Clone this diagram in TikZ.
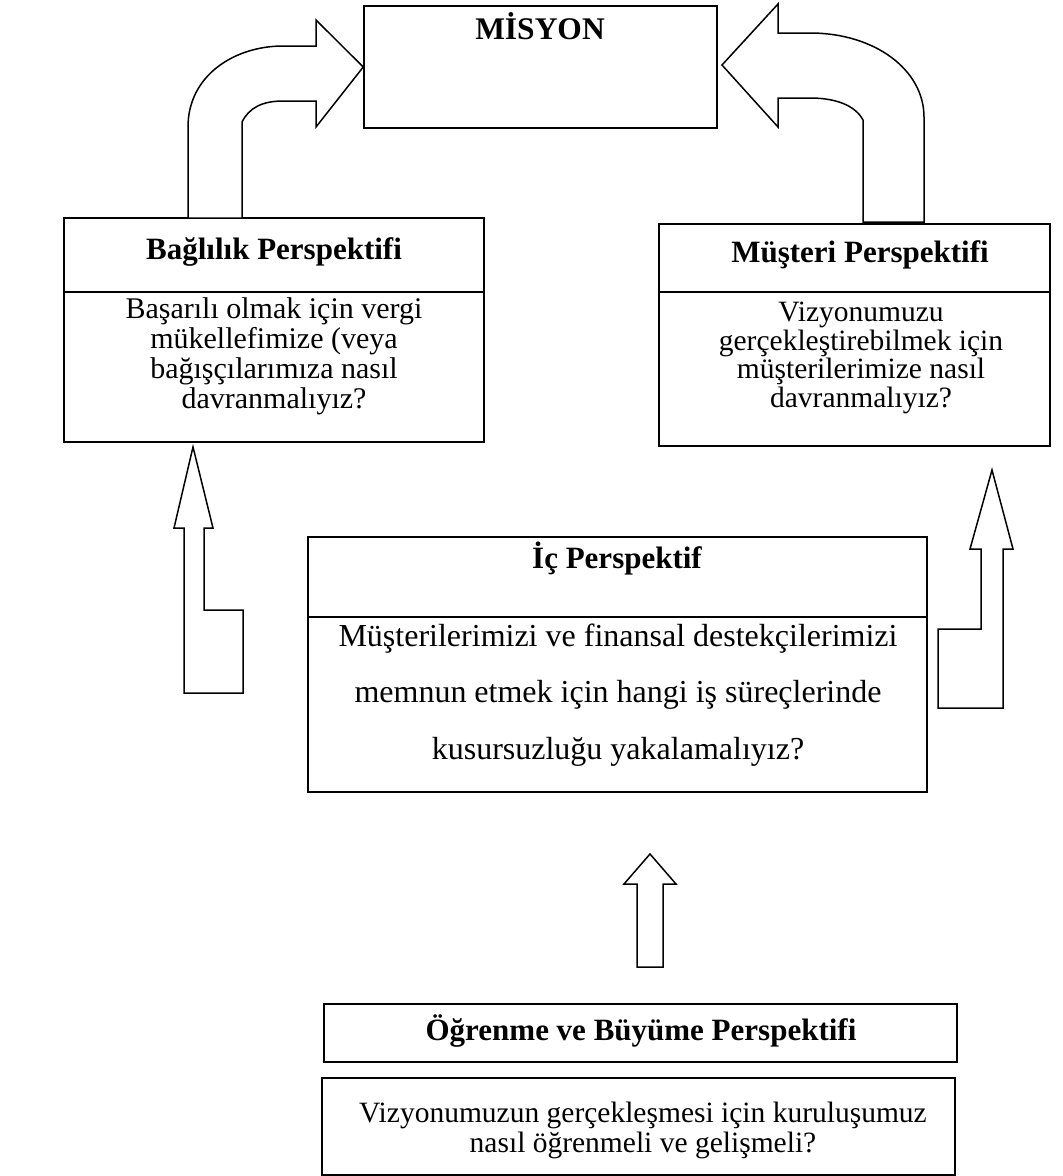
\documentclass[tikz,border=0pt]{standalone}
\usepackage{fontspec}
\setmainfont{Liberation Serif}

\begin{document}
\begin{tikzpicture}[
        x=1pt, y=-1pt, % one unit = one pixel of the page, y downwards
        line width=1.5pt,
        box/.style = {draw, inner sep=0pt}, % frames of the perspectives
        head/.style = {inner sep=0pt, font=\fontsize{31}{34}\selectfont\bfseries},
        body/.style = {inner sep=0pt, align=center, font=\fontsize{30}{30}\selectfont},
        wide/.style = {inner sep=0pt, align=center, font=\fontsize{32}{56.5}\selectfont},
        block/.style = {draw, fill=white, line join=miter}, % block arrows
    ]
    \useasboundingbox (0,0) rectangle (1063,1176);

    % frames
    \node[box, minimum width=353, minimum height=122] (misyon) at (540.5,67) {};
    \node[box, minimum width=420, minimum height=224] (baglilik) at (274,330) {};
    \node[box, minimum width=391, minimum height=222] (musteri) at (854.5,335) {};
    \node[box, minimum width=619, minimum height=255] (ic) at (617.5,664.5) {};
    \node[box, minimum width=633, minimum height=58] (ogrenme) at (640.5,1033) {};
    \node[box, minimum width=633, minimum height=97] (ogrenmeSoru) at (638.5,1126.5) {};

    % dividers under the titles
    \draw (baglilik.west |- 0,292) -- (baglilik.east |- 0,292);
    \draw (musteri.west |- 0,292) -- (musteri.east |- 0,292);
    \draw (ic.west |- 0,617) -- (ic.east |- 0,617);

    % texts
    \node[head, font=\fontsize{31.5}{34}\selectfont\bfseries] (misyonT) at (540,26) {MİSYON};
    \node[head] (baglilikT) at (274,252) {Bağlılık Perspektifi};
    \node[body] (baglilikS) at (274,356) {Başarılı olmak için vergi\\mükellefimize (veya\\bağışçılarımıza nasıl\\davranmalıyız?};
    \node[head] (musteriT) at (860,255) {Müşteri Perspektifi};
    \node[body, font=\fontsize{29.5}{28.8}\selectfont] (musteriS) at (861,358) {Vizyonumuzu\\gerçekleştirebilmek için\\müşterilerimize nasıl\\davranmalıyız?};
    \node[head] (icT) at (617,559) {İç Perspektif};
    \node[wide] (icS) at (618,695) {Müşterilerimizi ve finansal destekçilerimizi\\memnun etmek için hangi iş süreçlerinde\\kusursuzluğu yakalamalıyız?};
    \node[head] (ogrenmeT) at (641,1031) {Öğrenme ve Büyüme Perspektifi};
    \node[body, font=\fontsize{29.5}{30}\selectfont] (ogrenmeS) at (643,1130) {Vizyonumuzun gerçekleşmesi için kuruluşumuz\\nasıl öğrenmeli ve gelişmeli?};

    % curved arrows into the mission
    \draw[block] (misyon.west) -- (316,127) -- (316,101) -- (283,101)
        .. controls (262,101) and (249,108) .. (242,122) -- (242,218) -- (188,218) -- (188,127)
        .. controls (188,75) and (235,46) .. (283,46) -- (316,46) -- (316,20) -- cycle;
    \draw[block] (722,65) -- (778,4) -- (778,33) -- (810,33)
        .. controls (875,33) and (924,70) .. (924,117) -- (924,222) -- (863,222) -- (863,120)
        .. controls (855,105) and (835,98) .. (810,98) -- (778,98) -- (778,127) -- cycle;

    % bent arrows up to the side frames
    \draw[block] (193,447) -- (213,528) -- (204,528) -- (204,610) -- (243,610) -- (243,693)
        -- (184,693) -- (184,528) -- (174,528) -- cycle;
    \draw[block] (992,470) -- (1013,549) -- (1003,549) -- (1003,708) -- (938,708) -- (938,629)
        -- (981,629) -- (981,549) -- (970,549) -- cycle;

    % straight arrow up from learning
    \draw[block] (650,854) -- (676,884) -- (663,884) -- (663,967) -- (637,967) -- (637,884)
        -- (624,884) -- cycle;

\end{tikzpicture}
\end{document}
